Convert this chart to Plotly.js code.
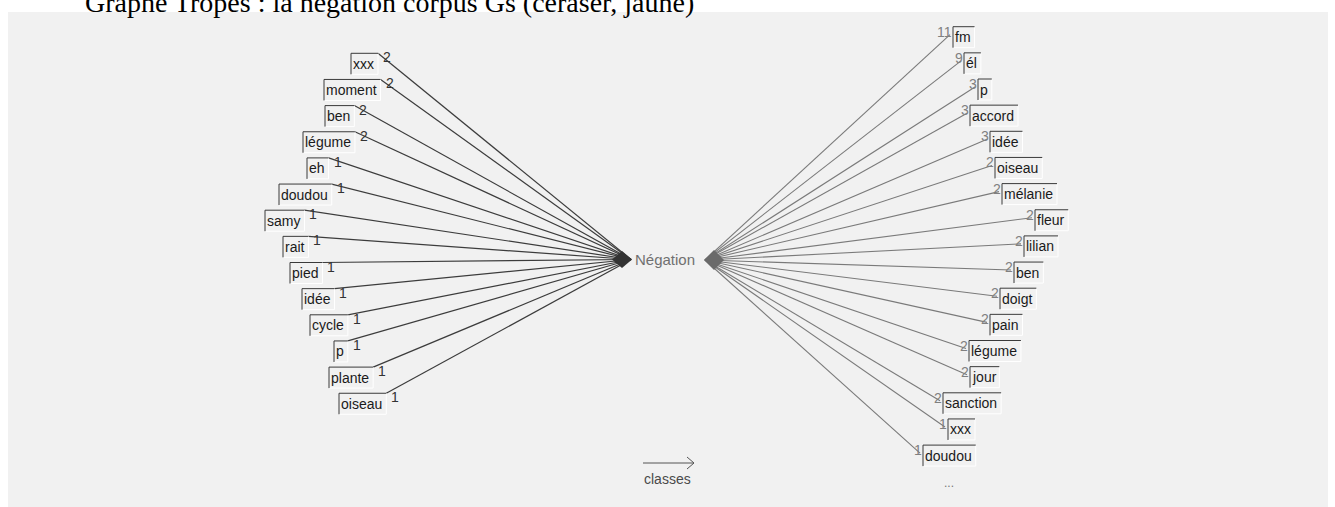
<!DOCTYPE html>
<html><head><meta charset="utf-8">
<script src="https://cdn.plot.ly/plotly-3.0.1.min.js"></script>
<style>html,body{margin:0;padding:0;background:#fff;overflow:hidden}#chart{width:1335px;height:507px}</style>
</head><body><div id="chart"></div>
<script>
// ---- content ----
const TITLE = 'Graphe Tropes : la négation corpus Gs (ceraser, jaune)';
const CENTER_LABEL = 'Négation';
const AXIS_LABEL = 'classes';
const MORE_LABEL = '...';
const leftWords  = ['xxx','moment','ben','légume','eh','doudou','samy','rait','pied','idée','cycle','p','plante','oiseau'];
const leftCounts = [2,2,2,2,1,1,1,1,1,1,1,1,1,1];
const rightWords  = ['fm','él','p','accord','idée','oiseau','mélanie','fleur','lilian','ben','doigt','pain','légume','jour','sanction','xxx','doudou'];
const rightCounts = [11,9,3,3,3,2,2,2,2,2,2,2,2,2,2,1,1];

// ---- graph node placement (layout, not data) ----
const LEFT_BOX_X  = [351,324,325,303,307,279,265,283,290,302,310,334,329,339];
const RIGHT_BOX_X = [953,964,978,970,990,995,1002,1035,1024,1014,1000,990,969,970,943,948,923];
const LEFT_TOP0 = 53.3, RIGHT_TOP0 = 26.7, ROW = 26.15, BOX_H = 21;
const HUB_L = [631, 259.5], HUB_R = [705, 260];
const LABEL_FONT = 'Liberation Sans, Arial, sans-serif';
const LABEL_SIZE = 14;

const ctx = document.createElement('canvas').getContext('2d');
ctx.font = LABEL_SIZE + 'px "Liberation Sans"';
const tw = s => ctx.measureText(s).width;

const W = 1335, H = 507;
const linesL = {x:[],y:[]}, linesR = {x:[],y:[]}, frameD = {x:[],y:[]}, frameW = {x:[],y:[]};
const ann = [];

function addBox(left, top, word){
  const right = left + tw(word) + 6;
  frameD.x.push(left, left, right, null); frameD.y.push(top+BOX_H, top, top, null);
  frameW.x.push(right, right, left, null); frameW.y.push(top, top+BOX_H, top+BOX_H, null);
  ann.push({x:left+2, y:top+10.5, xref:'x', yref:'y', text:word, showarrow:false, xanchor:'left', yanchor:'middle',
    font:{family:LABEL_FONT, size:LABEL_SIZE, color:'#1a1a1a'}, borderpad:0, borderwidth:0});
  return right;
}

leftWords.forEach((w,i)=>{
  const top = LEFT_TOP0 + ROW*i;
  const right = addBox(LEFT_BOX_X[i], top, w);
  linesL.x.push(right, HUB_L[0], null); linesL.y.push(top, HUB_L[1], null);
  ann.push({x:right+5, y:top+4, xref:'x', yref:'y', text:String(leftCounts[i]), showarrow:false, xanchor:'left', yanchor:'middle',
    font:{family:LABEL_FONT, size:LABEL_SIZE, color:'#333'}, borderpad:0, borderwidth:0});
});
rightWords.forEach((w,i)=>{
  const top = RIGHT_TOP0 + ROW*i;
  const left = RIGHT_BOX_X[i];
  addBox(left, top, w);
  linesR.x.push(HUB_R[0], left-3, null); linesR.y.push(HUB_R[1], top+8, null);
  ann.push({x:left-1, y:top+5, xref:'x', yref:'y', text:String(rightCounts[i]), showarrow:false, xanchor:'right', yanchor:'middle',
    font:{family:LABEL_FONT, size:LABEL_SIZE, color:'#808080'}, borderpad:0, borderwidth:0});
});

ann.push({x:635, y:259.5, xref:'x', yref:'y', text:CENTER_LABEL, showarrow:false, xanchor:'left', yanchor:'middle',
  font:{family:LABEL_FONT, size:15, color:'#707070'}, borderpad:0, borderwidth:0});
ann.push({x:667.5, y:478.5, xref:'x', yref:'y', text:AXIS_LABEL, showarrow:false, xanchor:'center', yanchor:'middle',
  font:{family:LABEL_FONT, size:14, color:'#4a4a4a'}, borderpad:0, borderwidth:0});
ann.push({x:949, y:483, xref:'x', yref:'y', text:MORE_LABEL, showarrow:false, xanchor:'center', yanchor:'middle',
  font:{family:LABEL_FONT, size:12, color:'#777'}, borderpad:0, borderwidth:0});
ann.push({x:85, y:2, xref:'x', yref:'y', text:TITLE, showarrow:false, xanchor:'left', yanchor:'middle',
  font:{family:'Liberation Serif, Times New Roman, serif', size:28, color:'#000'}, borderpad:0, borderwidth:0});

const traces = [
  {type:'scatter', mode:'lines', x:linesL.x, y:linesL.y, line:{color:'#3c3c3c', width:1.2}, hoverinfo:'skip'},
  {type:'scatter', mode:'lines', x:linesR.x, y:linesR.y, line:{color:'#7a7a7a', width:1.1}, hoverinfo:'skip'},
  {type:'scatter', mode:'lines', x:frameW.x, y:frameW.y, line:{color:'#ffffff', width:1}, hoverinfo:'skip'},
  {type:'scatter', mode:'lines', x:frameD.x, y:frameD.y, line:{color:'#3a3a3a', width:1}, hoverinfo:'skip'}
];

const shapes = [
  {type:'rect', xref:'x', yref:'y', x0:8, x1:1328, y0:12, y1:H, fillcolor:'#f1f1f1', line:{width:0}, layer:'below'},
  {type:'path', xref:'x', yref:'y', path:'M 612 259.5 L 622 251 L 632 259.5 L 622 268 Z', fillcolor:'#333', line:{width:0}, layer:'above'},
  {type:'path', xref:'x', yref:'y', path:'M 704 260 L 714 250 L 724 260 L 714 270 Z', fillcolor:'#6a6a6a', line:{width:0}, layer:'above'},
  {type:'line', xref:'x', yref:'y', x0:643, x1:694, y0:463, y1:463, line:{color:'#555', width:1}},
  {type:'path', xref:'x', yref:'y', path:'M 687 457 L 694 463 L 687 469', line:{color:'#555', width:1}}
];

const layout = {
  width:W, height:H, margin:{l:0,r:0,t:0,b:0,pad:0},
  paper_bgcolor:'#ffffff', plot_bgcolor:'rgba(0,0,0,0)',
  showlegend:false, hovermode:false,
  xaxis:{range:[0,W], visible:false, fixedrange:true},
  yaxis:{range:[H,0], visible:false, fixedrange:true},
  shapes:shapes, annotations:ann
};
Plotly.newPlot('chart', traces, layout, {staticPlot:true, displayModeBar:false});
</script></body></html>
